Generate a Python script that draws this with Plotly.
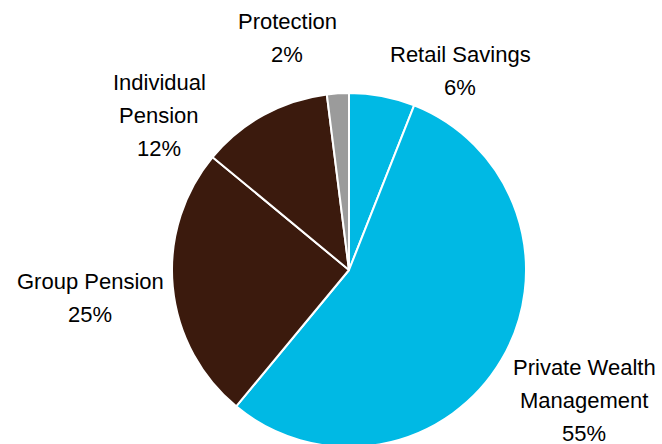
import plotly.graph_objects as go

# Business mix by segment (share of total, %)
segments = ["Retail Savings", "Private Wealth Management", "Group Pension",
            "Individual Pension", "Protection"]
shares = [6, 55, 25, 12, 2]
label_lines = [["Retail Savings"], ["Private Wealth", "Management"],
               ["Group Pension"], ["Individual", "Pension"], ["Protection"]]
colors = ["#00B9E4", "#00B9E4", "#3B1A0D", "#3B1A0D", "#9B9B9B"]

W, H = 662, 447
# label block centres (px from left, px from top of first line)
label_pos = [(460, 54), (584, 367), (90, 281), (159, 82), (287, 21)]
LINE_GAP = 33

fig = go.Figure(go.Pie(
    labels=segments,
    values=shares,
    sort=False,
    direction="clockwise",
    rotation=0,
    marker=dict(colors=colors, line=dict(color="white", width=2)),
    textinfo="none",
    hoverinfo="label+percent",
    showlegend=False,
    domain=dict(x=[172 / W, 526 / W], y=[0, 354 / H]),
))

annotations = []
for lines, val, (cx, cy) in zip(label_lines, shares, label_pos):
    for i, line in enumerate(lines + [f"{val}%"]):
        annotations.append(dict(
            text=line, x=cx / W, y=1 - (cy + i * LINE_GAP) / H,
            xref="paper", yref="paper", xanchor="center", yanchor="middle",
            showarrow=False,
            font=dict(family="Liberation Sans, Arial, sans-serif", size=22, color="#000000"),
        ))

fig.update_layout(
    width=W, height=H,
    margin=dict(l=0, r=0, t=0, b=0),
    paper_bgcolor="white", plot_bgcolor="white",
    annotations=annotations,
)

fig.write_html(
    "out.html",
    config={"displayModeBar": False},
    post_script="document.body.style.margin='0';document.body.style.overflow='hidden';"
                "document.documentElement.style.overflow='hidden';",
)
